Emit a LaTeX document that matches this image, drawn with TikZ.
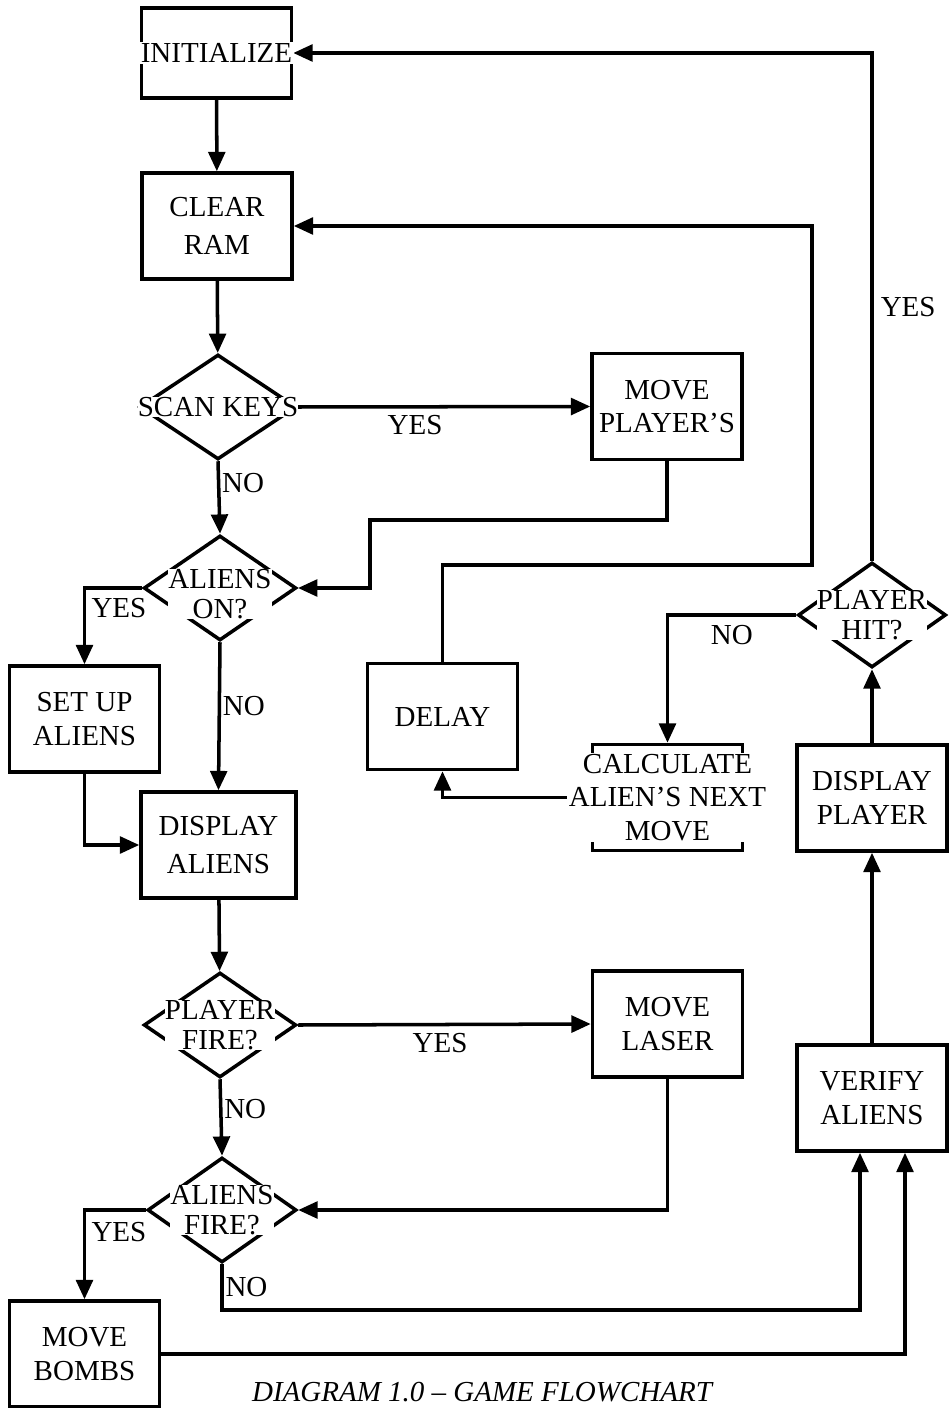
\documentclass[tikz,border=0pt]{standalone}
\usepackage{fontspec}
\setmainfont{Liberation Serif}
\usetikzlibrary{
  arrows.meta,calc,positioning,shapes.geometric
}

\begin{document}
\begin{tikzpicture}[x=0.02cm,y=-0.02cm,
    box/.style={draw,line width=2pt,minimum width=3cm,minimum height=2.12cm,inner sep=0pt},
    dia/.style={draw,diamond,line width=2pt,inner sep=0pt,minimum width=3.05cm,minimum height=2.1cm},
    txt/.style={fill=white,inner sep=1pt,align=center,font=\fontsize{16.5}{19}\selectfont},
    dtxt/.style={txt,inner sep=0pt,font=\fontsize{16.5}{17}\selectfont},
    lbl/.style={inner sep=1pt,font=\fontsize{16.5}{19}\selectfont},
    arr/.style={line width=2pt,-{Triangle[length=11pt,width=9.5pt]}}]
      \fill[white] (0,0) rectangle (948,1408);
      \useasboundingbox (0,0) rectangle (948,1408);
      % left column
      \node[box,minimum height=1.8cm] (init) at (216.5,53) {};
      \node[box] (clear) at (217,226) {};
      \node[dia,minimum width=3.14cm] (scan) at (218,407) {};
      \node[dia] (alon) at (220,588) {};
      \node[box] (setup) at (84.5,719) {};
      \node[box,minimum width=3.1cm] (disal) at (218.5,845) {};
      \node[dia] (pfire) at (220,1025) {};
      \node[dia,minimum width=2.98cm] (afire) at (222,1210) {};
      \node[box] (bombs) at (84.5,1354) {};
      % middle column
      \node[box] (movep) at (667,406.5) {};
      \node[box] (delay) at (442.5,716.5) {};
      \node[box] (calc) at (667.5,797.5) {};
      \node[box] (movel) at (667.5,1024) {};
      % right column
      \node[dia,minimum width=2.96cm] (phit) at (872,615) {};
      \node[box] (dispp) at (872,798) {};
      \node[box] (verify) at (872,1098) {};
      \coordinate (j1) at (370,520);
      \coordinate (j2) at (860,1310);
      \coordinate (j3) at (905,1352);
      \coordinate (j4) at (812,565);
      % connectors
      \draw[arr] (init) -- (clear);
      \draw[arr] (clear) -- (scan);
      \draw[arr] (scan.east) -- node[lbl,pos=0.4,below=3pt] {YES} (movep.west);
      \draw[arr] (scan.south) -- node[lbl,pos=0.3,anchor=west] {NO} (alon.north);
      \draw[arr] (movep.south) |- (j1) |- (alon.east);
      \draw[arr] (alon.west) -| node[lbl,pos=0.5,anchor=north west,xshift=2pt,yshift=-4pt] {YES} (setup.north);
      \draw[arr] (alon.south) -- node[lbl,pos=0.43,anchor=west] {NO} (disal.north);
      \draw[arr] (setup.south) |- (disal.west);
      \draw[arr] (disal) -- (pfire);
      \draw[arr] (pfire.east) -- node[lbl,pos=0.485,below=3pt] {YES} (movel.west);
      \draw[arr] (pfire.south) -- node[lbl,pos=0.39,anchor=west] {NO} (afire.north);
      \draw[arr] (movel.south) |- (afire.east);
      \draw[arr] (afire.west) -| node[lbl,pos=0.5,anchor=north west,xshift=2pt,yshift=-5pt] {YES} (bombs.north);
      \draw[arr] (afire.south) |- node[lbl,pos=0.25,anchor=west] {NO} (j2) -- (j2 |- verify.south);
      \draw[arr] (bombs.east) -| (j3 |- verify.south);
      \draw[arr] (verify) -- (dispp);
      \draw[arr] (dispp) -- (phit);
      \draw[arr] (phit.north) |- node[lbl,pos=0.25,anchor=west,xshift=3pt] {YES} (init.east);
      \draw[arr] (phit.west) -| node[lbl,pos=0.25,below=4pt] {NO} (calc.north);
      \draw[arr] (calc.west) -| (delay.south);
      \draw[arr] (delay.north) |- (j4) |- (clear.east);
      % texts
      \node[txt] (init-t) at (init) {INITIALIZE};
      \node[txt] (clear-t) at (clear) {CLEAR\\[3pt]RAM};
      \node[dtxt] (scan-t) at (scan) {SCAN KEYS};
      \node[dtxt] (alon-t) at ($(alon)+(0,6)$) {ALIENS\\ON?};
      \node[txt] (setup-t) at (setup) {SET UP\\ALIENS};
      \node[txt] (disal-t) at (disal) {DISPLAY\\[3pt]ALIENS};
      \node[dtxt] (pfire-t) at (pfire) {PLAYER\\FIRE?};
      \node[dtxt] (afire-t) at (afire) {ALIENS\\FIRE?};
      \node[txt] (bombs-t) at (bombs) {MOVE\\BOMBS};
      \node[txt] (movep-t) at (movep) {MOVE\\PLAYER'S};
      \node[txt] (delay-t) at (delay) {DELAY};
      \node[txt] (calc-t) at (calc) {CALCULATE\\ALIEN'S NEXT\\MOVE};
      \node[txt] (movel-t) at (movel) {MOVE\\LASER};
      \node[dtxt] (phit-t) at (phit) {PLAYER\\HIT?};
      \node[txt] (dispp-t) at (dispp) {DISPLAY\\PLAYER};
      \node[txt] (verify-t) at (verify) {VERIFY\\ALIENS};
      \node[font=\fontsize{16.5}{19}\selectfont\itshape] (cap) at (482,1392) {DIAGRAM 1.0 -- GAME FLOWCHART};
    \end{tikzpicture}
\end{document}
